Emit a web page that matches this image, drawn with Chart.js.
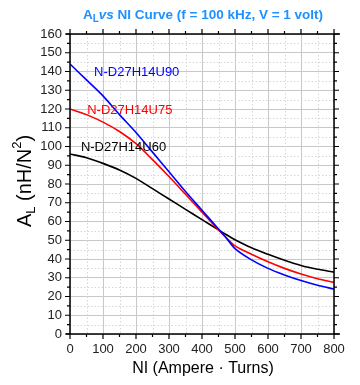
<!DOCTYPE html>
<html><head><meta charset="utf-8">
<script src="https://cdn.jsdelivr.net/npm/chart.js@4/dist/chart.umd.min.js"></script>
<style>html,body{margin:0;padding:0;background:#fff}#w{width:360px;height:385px}</style>
</head><body><div id="w"><canvas id="c"></canvas></div>
<script>
const niValues = [0, 50, 100, 150, 200, 250, 300, 350, 400, 450, 470, 500, 550, 600, 650, 700, 750, 800];
const alU90    = [144, 135.5, 127, 117, 107.5, 97, 86.5, 76, 66, 56, 52, 45.5, 39.5, 35, 31.5, 28.5, 26, 24];
const alU75    = [120, 117, 113, 108, 101.5, 93, 84, 74.5, 65, 55.5, 52, 47, 42.5, 38.5, 35, 32, 29.5, 27.5];
const alU60    = [96, 94, 91, 87.5, 83, 77.5, 72, 66.5, 61, 55.5, 53.3, 50.3, 46, 42.5, 39.3, 36.5, 34.5, 33];
const seriesNames = ['N-D27H14U90', 'N-D27H14U75', 'N-D27H14U60'];
const labelNI  = [73, 52, 33];
const labelAL  = [139.5, 119.5, 99.7];
const xTicks   = [0, 100, 200, 300, 400, 500, 600, 700, 800];

const colors = ['#0000ff', '#ff0000', '#000000'];
const series = [alU90, alU75, alU60];
const FF = 'Arial, "Liberation Sans", sans-serif';

function drawParts(ctx, parts, cx, cy, color) {
  let total = 0;
  for (const p of parts) { ctx.font = p[1]; total += ctx.measureText(p[0]).width; }
  let x = cx - total / 2;
  ctx.fillStyle = color; ctx.textAlign = 'left'; ctx.textBaseline = 'middle';
  for (const p of parts) {
    ctx.font = p[1];
    ctx.fillText(p[0], x, cy + p[2]);
    x += ctx.measureText(p[0]).width;
  }
}

const deco = {
  id: 'deco',
  beforeDatasetsDraw(chart) {
    const ctx = chart.ctx, xs = chart.scales.x, ys = chart.scales.y, ca = chart.chartArea;
    ctx.save();
    ctx.strokeStyle = '#d6d6d6'; ctx.lineWidth = 1; ctx.setLineDash([1.5, 2]);
    for (let v = 50; v < 800; v += 100) {
      const x = Math.round(xs.getPixelForValue(v)) + 0.5;
      ctx.beginPath(); ctx.moveTo(x, ca.top); ctx.lineTo(x, ca.bottom); ctx.stroke();
    }
    for (let v = 5; v < 160; v += 10) {
      const y = Math.round(ys.getPixelForValue(v)) + 0.5;
      ctx.beginPath(); ctx.moveTo(ca.left, y); ctx.lineTo(ca.right, y); ctx.stroke();
    }
    ctx.restore();
  },
  afterDraw(chart) {
    const ctx = chart.ctx, xs = chart.scales.x, ys = chart.scales.y, ca = chart.chartArea;
    ctx.save();
    ctx.strokeStyle = '#000'; ctx.lineWidth = 1.5;
    ctx.beginPath();
    ctx.moveTo(ca.left - 4, ca.top); ctx.lineTo(ca.right + 6, ca.top);
    ctx.moveTo(ca.left - 4, ca.bottom); ctx.lineTo(ca.right + 6, ca.bottom);
    ctx.moveTo(ca.left, ca.top); ctx.lineTo(ca.left, ca.bottom);
    ctx.moveTo(ca.right, ca.top); ctx.lineTo(ca.right, ca.bottom);
    ctx.stroke();
    ctx.lineWidth = 1.2;
    ctx.beginPath();
    for (let v = 0; v <= 800; v += 50) {
      const x = xs.getPixelForValue(v), L = (v % 100 === 0) ? 5 : 3;
      ctx.moveTo(x, ca.bottom); ctx.lineTo(x, ca.bottom + L);
      ctx.moveTo(x, ca.top); ctx.lineTo(x, ca.top - L);
    }
    for (let v = 0; v <= 160; v += 5) {
      const y = ys.getPixelForValue(v), L = (v % 10 === 0) ? 5 : 3;
      ctx.moveTo(ca.left, y); ctx.lineTo(ca.left - L, y);
      ctx.moveTo(ca.right, y); ctx.lineTo(ca.right + L, y);
    }
    ctx.stroke();

    ctx.font = '13px ' + FF;
    ctx.textBaseline = 'middle'; ctx.textAlign = 'left';
    for (let i = 0; i < 3; i++) {
      ctx.fillStyle = colors[i];
      ctx.fillText(seriesNames[i], xs.getPixelForValue(labelNI[i]), ys.getPixelForValue(labelAL[i]));
    }

    drawParts(ctx, [
      ['A', 'bold 13.5px ' + FF, 0],
      ['L', 'bold 10px ' + FF, 4],
      ['vs', 'italic bold 13.5px ' + FF, 0],
      [' NI Curve (f = 100 kHz, V = 1 volt)', 'bold 13.5px ' + FF, 0]
    ], 203, 15, '#1e90ff');

    ctx.fillStyle = '#000';
    ctx.font = '16px ' + FF;
    ctx.textAlign = 'center'; ctx.textBaseline = 'middle';
    ctx.fillText('NI (Ampere \u00b7 Turns)', 203, 369);

    ctx.save();
    ctx.translate(25, 181); ctx.rotate(-Math.PI / 2);
    drawParts(ctx, [
      ['A', '20px ' + FF, 0],
      ['L', '13px ' + FF, 6],
      [' (nH/N', '20px ' + FF, 0],
      ['2', '13px ' + FF, -8],
      [')', '20px ' + FF, 0]
    ], 0, 0, '#000');
    ctx.restore();
    ctx.restore();
  }
};

new Chart(document.getElementById('c'), {
  type: 'line',
  data: {
    datasets: series.map((s, i) => ({
      label: seriesNames[i],
      data: niValues.map((x, j) => ({ x: x, y: s[j] })),
      borderColor: colors[i],
      borderWidth: 1.6,
      pointRadius: 0,
      fill: false,
      tension: 0.3
    }))
  },
  plugins: [deco],
  options: {
    responsive: true, maintainAspectRatio: false, animation: false,
    layout: { padding: { top: 34, right: 26, left: 0, bottom: 0 } },
    plugins: { legend: { display: false }, tooltip: { enabled: false }, title: { display: false } },
    scales: {
      x: {
        type: 'linear', min: 0, max: 800,
        afterFit(s) { s.height = 51; },
        afterBuildTicks(s) { s.ticks = xTicks.map(v => ({ value: v })); },
        grid: { color: '#c8c8c8', drawTicks: false, lineWidth: 1 },
        border: { display: false },
        ticks: { padding: 8, color: '#222', font: { size: 13, family: FF }, maxRotation: 0 }
      },
      y: {
        type: 'linear', min: 0, max: 160,
        afterFit(s) { s.width = 70; },
        grid: { color: '#c8c8c8', drawTicks: false, lineWidth: 1 },
        border: { display: false },
        ticks: { stepSize: 10, padding: 8, color: '#222', font: { size: 13, family: FF } }
      }
    }
  }
});
</script>
</body></html>
